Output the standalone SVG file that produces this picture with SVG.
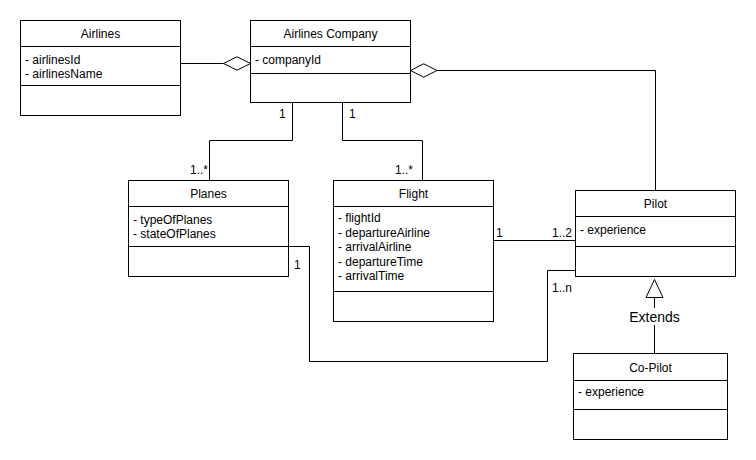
<svg xmlns="http://www.w3.org/2000/svg" width="756" height="460" viewBox="0 0 756 460">
<style>
.box{fill:#fff;stroke:#000;stroke-width:1}
.ln{fill:none;stroke:#000;stroke-width:1}
.t{font-family:"Liberation Sans",Arial,sans-serif;font-size:12px;fill:#000}
.c{text-anchor:middle}
.e{text-anchor:end}
.dia{fill:#fff;stroke:#000;stroke-width:1}
</style>
<rect width="756" height="460" fill="#fff"/>
<g id="connectors">
<path class="ln" d="M180.5,63.5 H223.5"/>
<polygon class="dia" points="250.5,63.5 237,56.8 223.5,63.5 237,70.2"/>
<path class="ln" d="M437,70.5 H655.5 V190.5"/>
<polygon class="dia" points="410.5,70.5 423.7,63.8 437,70.5 423.7,77.2"/>
<path class="ln" d="M292.5,102.5 V140.5 H209.5 V180.5"/>
<path class="ln" d="M342.5,102.5 V140.5 H422.5 V180.5"/>
<path class="ln" d="M493.5,240.5 H575.5"/>
<path class="ln" d="M288.5,246.5 H309.5 V361.5 H547.5 V270.5 H575.5"/>
<path class="ln" d="M654.5,353.5 V297.5"/>
<polygon class="dia" points="654.5,279.5 663,297.5 646,297.5"/>
<rect x="628" y="308" width="53" height="17" fill="#fff"/>
<text class="t c" x="654.5" y="321.5" style="font-size:14px">Extends</text>
<text class="t" x="279" y="118">1</text>
<text class="t" x="349" y="118">1</text>
<text class="t e" x="208" y="174">1..*</text>
<text class="t e" x="413" y="174">1..*</text>
<text class="t" x="294" y="269">1</text>
<text class="t" x="496" y="237">1</text>
<text class="t e" x="572" y="237">1..2</text>
<text class="t" x="552" y="292">1..n</text>
</g>
<g id="airlines">
<rect class="box" x="20.5" y="20.5" width="160" height="95"/>
<path class="ln" d="M20.5,46.5 H180.5 M20.5,85.5 H180.5"/>
<text class="t c" x="100.5" y="38">Airlines</text>
<text class="t" x="25" y="64">- airlinesId</text>
<text class="t" x="25" y="77.5">- airlinesName</text>
</g>
<g id="airlines-company">
<rect class="box" x="250.5" y="20.5" width="160" height="82"/>
<path class="ln" d="M250.5,46.5 H410.5 M250.5,73.5 H410.5"/>
<text class="t c" x="330.5" y="38">Airlines Company</text>
<text class="t" x="255" y="64">- companyId</text>
</g>
<g id="planes">
<rect class="box" x="128.5" y="180.5" width="160" height="96"/>
<path class="ln" d="M128.5,206.5 H288.5 M128.5,246.5 H288.5"/>
<text class="t c" x="208.5" y="198">Planes</text>
<text class="t" x="133" y="223.5">- typeOfPlanes</text>
<text class="t" x="133" y="237.5">- stateOfPlanes</text>
</g>
<g id="flight">
<rect class="box" x="333.5" y="180.5" width="160" height="141"/>
<path class="ln" d="M333.5,206.5 H493.5 M333.5,291.5 H493.5"/>
<text class="t c" x="413.5" y="198">Flight</text>
<text class="t" x="338" y="222">- flightId</text>
<text class="t" x="338" y="236.5">- departureAirline</text>
<text class="t" x="338" y="251">- arrivalAirline</text>
<text class="t" x="338" y="265.5">- departureTime</text>
<text class="t" x="338" y="280">- arrivalTime</text>
</g>
<g id="pilot">
<rect class="box" x="575.5" y="190.5" width="160" height="86"/>
<path class="ln" d="M575.5,216.5 H735.5 M575.5,246.5 H735.5"/>
<text class="t c" x="655.5" y="208">Pilot</text>
<text class="t" x="580" y="234">- experience</text>
</g>
<g id="co-pilot">
<rect class="box" x="573.5" y="353.5" width="154" height="86"/>
<path class="ln" d="M573.5,380.5 H727.5 M573.5,409.5 H727.5"/>
<text class="t c" x="650.5" y="371.5">Co-Pilot</text>
<text class="t" x="578" y="396">- experience</text>
</g>
</svg>
